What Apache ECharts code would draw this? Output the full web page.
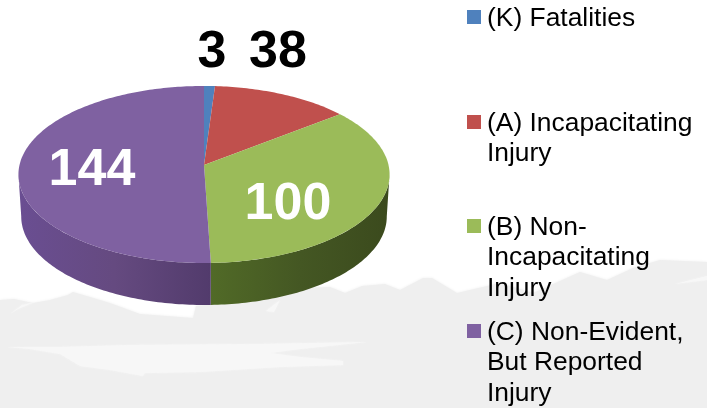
<!DOCTYPE html>
<html>
<head>
<meta charset="utf-8">
<style>
  html, body { margin: 0; padding: 0; background: #fff; }
  #chart { width: 707px; height: 408px; }
</style>
<script src="https://cdn.jsdelivr.net/npm/echarts@6/dist/echarts.min.js"></script>
</head>
<body>
<div id="chart"></div>
<script>
const categories = ['(K) Fatalities', '(A) Incapacitating\nInjury', '(B) Non-\nIncapacitating\nInjury', '(C) Non-Evident,\nBut Reported\nInjury'];
const values = [3, 38, 100, 144];
const colors = ['#4f81bd', '#c0504d', '#9bbb59', '#7f61a1'];
const sideColors = [null, null, ['#516a27', '#445723', '#3b4a1d'], ['#6a4e92', '#654a80', '#523b6c']];
const labelColors = ['#000', '#000', '#fff', '#fff'];
const labelX = [212, 278, 288, 92];
const labelY = [53, 53, 205, 171];
const legendY = [10, 115, 219, 324];

// tilted disc: a circle seen in perspective, the near edge is larger
const cx = 204, cy = 165, rx = 184.5, ry = 87.5, tilt = 0.107;
const depth = 42, bottomScale = 0.985;
const total = values.reduce((a, b) => a + b, 0);
const frontFrom = 96, frontTo = 264;

function rimPoint(deg, lower) {
  const a = deg * Math.PI / 180;
  const w = 1 + tilt * Math.cos(a);
  const k = lower ? bottomScale : 1;
  return [cx + k * rx * Math.sin(a) / w, cy - ry * Math.cos(a) / w + (lower ? depth : 0)];
}

function arc(from, to, lower) {
  const pts = [];
  const n = Math.max(2, Math.ceil(Math.abs(to - from)));
  for (let i = 0; i <= n; i++) pts.push(rimPoint(from + (to - from) * i / n, lower));
  return pts;
}

function renderSlice(params, api) {
  const idx = params.seriesIndex;
  const before = values.slice(0, idx).reduce((a, b) => a + b, 0);
  const from = before / total * 360;
  const to = (before + api.value(0)) / total * 360;
  const children = [];

  const sideFrom = Math.max(from, frontFrom);
  const sideTo = Math.min(to, frontTo);
  if (sideColors[idx] && sideTo > sideFrom) {
    const stops = sideColors[idx].map((c, i) => ({ offset: i / (sideColors[idx].length - 1), color: c }));
    children.push({
      type: 'polygon',
      shape: { points: arc(sideFrom, sideTo, false).concat(arc(sideTo, sideFrom, true)) },
      style: { fill: new echarts.graphic.LinearGradient(0, 0, 1, 0, stops) }
    });
  }
  children.push({
    type: 'polygon',
    shape: { points: [[cx, cy]].concat(arc(from, to, false)) },
    style: { fill: colors[idx] }
  });
  children.push({
    type: 'text',
    x: labelX[idx],
    y: labelY[idx],
    style: {
      text: String(api.value(0)),
      fill: labelColors[idx],
      font: 'bold 52px "Liberation Sans", Arial, sans-serif',
      align: 'center',
      verticalAlign: 'middle'
    }
  });
  return { type: 'group', children };
}

// faint landscape behind the chart
const hills = [[0,300],[14,299],[33,303],[50,300],[68,295],[73,292],[90,297],[110,303],[140,314],[193,318],[196,306],[215,304],[300,288],[330,287],[345,293],[362,286],[385,284],[400,290],[423,278],[432,278],[457,293],[500,283],[533,293],[580,272],[607,280],[633,268],[660,260],[707,262],[707,408],[0,408]];
const gaps = [
  [[7,347],[60,347],[130,345],[260,344],[367,342],[300,349],[270,353],[300,357],[343,361],[343,365],[280,367],[200,372],[145,373],[143,376],[110,370],[80,366],[60,354],[30,349]],
  [[10,314],[22,305],[35,302],[18,309]],
  [[266,311],[280,300],[274,312]],
  [[675,284],[707,276],[707,280]]
];

const legendItems = [];
categories.forEach((name, i) => {
  legendItems.push({
    type: 'rect',
    silent: true,
    shape: { x: 467, y: legendY[i], width: 14, height: 14 },
    style: { fill: colors[i] }
  });
  legendItems.push({
    type: 'text',
    silent: true,
    x: 487,
    y: legendY[i] - 7,
    style: {
      text: name,
      fill: '#000',
      font: '26.4px "Liberation Sans", Arial, sans-serif',
      lineHeight: 30.5
    }
  });
});

const chart = echarts.init(document.getElementById('chart'));
chart.setOption({
  animation: false,
  backgroundColor: '#fff',
  graphic: [
    { type: 'polygon', silent: true, z: -2, shape: { points: hills }, style: { fill: '#efefef', shadowBlur: 3, shadowColor: '#efefef' } }
  ].concat(gaps.map(points => ({ type: 'polygon', silent: true, z: -1, shape: { points }, style: { fill: '#f7f7f7', shadowBlur: 2, shadowColor: '#f7f7f7' } })), legendItems),
  series: categories.map((name, i) => ({
    type: 'custom',
    name,
    coordinateSystem: 'none',
    itemStyle: { color: colors[i] },
    data: [[values[i]]],
    renderItem: renderSlice
  }))
});
</script>
</body>
</html>
